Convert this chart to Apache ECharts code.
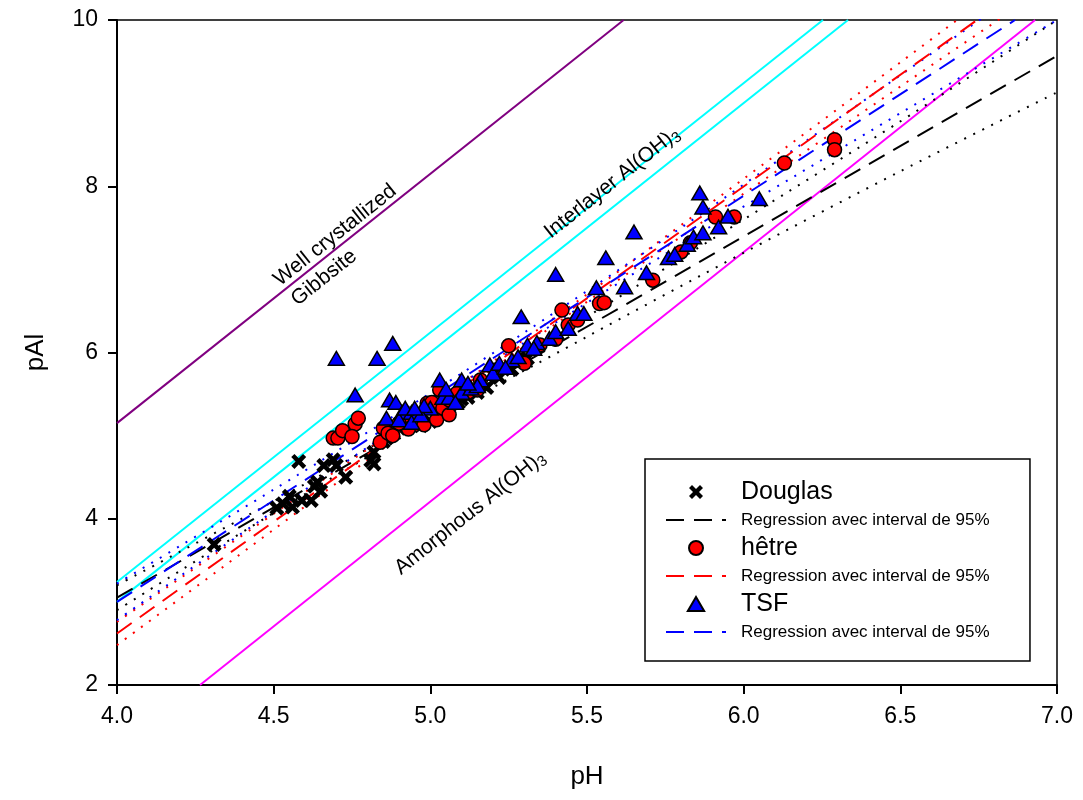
<!DOCTYPE html>
<html><head><meta charset="utf-8">
<script src="https://cdn.jsdelivr.net/npm/echarts@6/dist/echarts.min.js"></script>
<style>html,body{margin:0;padding:0;background:#fff}#c{width:1083px;height:800px}</style>
</head><body><div id="c"></div><script>
// ---- data (pH, pAl) ----
const douglasPts = [[4.31,3.69],[4.51,4.13],[4.53,4.18],[4.55,4.27],[4.56,4.14],[4.59,4.22],[4.62,4.22],[4.63,4.39],[4.64,4.44],[4.65,4.33],[4.58,4.69],[4.66,4.64],[4.69,4.71],[4.70,4.64],[4.73,4.50],[4.81,4.70],[4.82,4.66],[4.82,4.80],[4.85,4.93],[4.88,5.02],[4.90,5.09],[4.93,5.13],[4.97,5.12],[5.00,5.17],[5.03,5.30],[5.06,5.36],[5.09,5.40],[5.12,5.46],[5.15,5.52],[5.18,5.58],[5.22,5.70],[5.26,5.80],[5.31,5.93],[5.05,5.38],[4.95,5.21],[5.10,5.44],[4.86,4.97]];
const hetrePts = [[4.69,4.97],[4.705,4.97],[4.72,5.06],[4.76,5.14],[4.77,5.21],[4.75,4.99],[4.84,4.92],[4.85,5.09],[4.865,5.03],[4.88,5.00],[4.92,5.19],[4.95,5.13],[4.98,5.13],[4.99,5.39],[5.005,5.40],[5.02,5.19],[5.04,5.33],[5.06,5.43],[5.085,5.51],[5.12,5.52],[5.16,5.67],[5.21,5.79],[5.25,6.08],[5.30,5.87],[5.35,6.09],[5.40,6.16],[5.42,6.51],[5.44,6.33],[5.47,6.39],[5.54,6.59],[5.555,6.60],[5.71,6.87],[5.80,7.21],[5.83,7.32],[5.91,7.63],[5.97,7.63],[6.13,8.28],[6.29,8.56],[6.29,8.44],[5.03,5.55],[5.15,5.55],[4.93,5.08],[4.90,5.15],[5.06,5.25]];
const tsfPts = [[4.70,5.93],[4.83,5.93],[4.88,6.11],[4.76,5.49],[4.86,5.21],[4.87,5.43],[4.89,5.40],[4.91,5.28],[4.94,5.28],[4.90,5.19],[4.94,5.16],[5.00,5.33],[5.03,5.67],[5.04,5.46],[5.06,5.46],[5.10,5.52],[5.10,5.67],[5.13,5.57],[5.16,5.67],[5.19,5.85],[5.20,5.75],[5.22,5.87],[5.26,5.91],[5.28,5.95],[5.31,6.09],[5.34,6.12],[5.38,6.17],[5.29,6.43],[5.40,6.25],[5.44,6.29],[5.47,6.47],[5.49,6.47],[5.40,6.94],[5.53,6.78],[5.56,7.14],[5.62,6.79],[5.65,7.45],[5.69,6.96],[5.76,7.14],[5.78,7.18],[5.82,7.30],[5.84,7.39],[5.87,7.44],[5.86,7.92],[5.87,7.75],[5.92,7.51],[5.95,7.64],[6.05,7.85],[5.33,6.05],[4.97,5.25],[5.08,5.40],[5.15,5.60],[5.24,5.82],[4.98,5.36],[4.92,5.33],[5.12,5.63],[5.05,5.56],[4.95,5.33]];

// reference solubility lines
const gibbsiteLine = [[4.0,5.15],[5.617,10]];
const interlayerLine1 = [[4.0,3.24],[6.253,10]];
const interlayerLine2 = [[4.0,3.0],[6.333,10]];
const amorphousLine = [[4.265,2],[6.93,10]];

// regressions
const douglasReg = [[4.0,3.05],[7.0,9.57]];
const hetreReg = [[4.0,2.62],[6.745,10]];
const tsfReg = [[4.0,3.0],[6.866,10]];

// 95% intervals
const douglasUp = [[4.0,3.20],[4.5,4.21],[4.9,5.06],[5.5,6.43],[6.0,7.60],[6.5,8.78],[7.0,10.0]];
const douglasLo = [[4.0,2.90],[4.5,4.07],[4.9,4.96],[5.5,6.19],[6.0,7.20],[6.5,8.18],[7.0,9.13]];
const hetreUp = [[4.0,2.76],[4.5,4.06],[5.0,5.36],[5.5,6.70],[6.0,8.09],[6.5,9.49],[7.0,10.9]];
const hetreLo = [[4.0,2.48],[4.5,3.87],[5.0,5.26],[5.5,6.61],[6.0,7.91],[6.5,9.20],[7.0,10.48]];
const tsfUp = [[4.0,3.22],[4.5,4.35],[5.0,5.51],[5.3,6.24],[5.8,7.50],[6.3,8.81],[7.0,10.65]];
const tsfLo = [[4.0,2.78],[4.5,4.09],[5.0,5.37],[5.3,6.12],[5.8,7.30],[6.3,8.43],[7.0,10.0]];

// annotations
const annotationText = ['Well crystallized','Gibbsite','Interlayer Al(OH)','Amorphous Al(OH)'];
const annotationSub = ['','','3','3'];
const annotationPos = [[4.696,7.41],[4.661,6.90],[5.58,8.04],[5.127,4.07]];

const xTicks = {min:4, max:7, interval:0.5};
const yTicks = {min:2, max:10, interval:2};

const regName = 'Regression avec interval de 95%';
const FONT = "'Liberation Sans', Arial, sans-serif";
const XPATH = 'path://M0,3L3,0L7,4L11,0L14,3L10,7L14,11L11,14L7,10L3,14L0,11L4,7Z';
const TRIPATH = 'path://M7,0L14,12L0,12Z';

const chart = echarts.init(document.getElementById('c'), null, {renderer:'canvas'});

function refLine(data, color) {
  return {type:'line', data, symbol:'none', silent:true, lineStyle:{color, width:2}, z:1};
}
function regLine(name, data, color) {
  return {type:'line', name, data, symbol:'none', silent:true, lineStyle:{color, width:2, type:[18,10]}, itemStyle:{color}, z:2};
}
function ciLine(data, color) {
  return {type:'line', data, symbol:'none', silent:true, smooth:0.3, lineStyle:{color, width:2, type:[2,8]}, z:2};
}

const annData = annotationText.map((t,i)=>({value: annotationPos[i], t, s: annotationSub[i]}));
const bigText = {fontSize:25, lineHeight:28, padding:[0,0,0,10]};
const smallText = {fontSize:17, lineHeight:28, padding:[0,0,0,10]};
const hideSym = {opacity:0};

chart.setOption({
  animation:false,
  textStyle:{fontFamily:FONT},
  grid:{left:117, right:26, top:20, bottom:115, show:true, borderColor:'#000', borderWidth:1.5},
  xAxis:{type:'value', min:xTicks.min, max:xTicks.max, interval:xTicks.interval,
    name:'pH', nameLocation:'middle', nameGap:79, nameTextStyle:{fontSize:26, color:'#000', fontFamily:FONT},
    axisLine:{show:true, onZero:false, lineStyle:{color:'#000', width:2}},
    axisTick:{show:true, length:9, lineStyle:{color:'#000', width:2}},
    axisLabel:{color:'#000', fontSize:23, margin:20, fontFamily:FONT, formatter:v=>v.toFixed(1)},
    splitLine:{show:false}},
  yAxis:{type:'value', min:yTicks.min, max:yTicks.max, interval:yTicks.interval,
    name:'pAl', nameLocation:'middle', nameGap:68, nameRotate:90, nameTextStyle:{fontSize:26, color:'#000', fontFamily:FONT},
    axisLine:{show:true, onZero:false, lineStyle:{color:'#000', width:2}},
    axisTick:{show:true, length:9, lineStyle:{color:'#000', width:2}},
    axisLabel:{color:'#000', fontSize:23, margin:19, fontFamily:FONT},
    splitLine:{show:false}},
  legend:{left:645, top:459, orient:'vertical', itemWidth:60, itemHeight:14, itemGap:0,
    padding:[19,31,15,20], borderColor:'#000', borderWidth:1.5, backgroundColor:'#fff',
    selectedMode:false, textStyle:{color:'#000', fontFamily:FONT},
    data:[
      {name:'Douglas', textStyle:bigText},
      {name:regName, textStyle:smallText, itemStyle:hideSym},
      {name:'hêtre', textStyle:bigText},
      {name:regName+' ', textStyle:smallText, itemStyle:hideSym},
      {name:'TSF', textStyle:bigText},
      {name:regName+'  ', textStyle:smallText, itemStyle:hideSym}
    ]},
  series:[
    refLine(gibbsiteLine,'#800080'),
    refLine(interlayerLine1,'#00ffff'),
    refLine(interlayerLine2,'#00ffff'),
    refLine(amorphousLine,'#ff00ff'),
    ciLine(douglasUp,'#000'), ciLine(douglasLo,'#000'),
    ciLine(hetreUp,'#ff0000'), ciLine(hetreLo,'#ff0000'),
    ciLine(tsfUp,'#0000ff'), ciLine(tsfLo,'#0000ff'),
    regLine(regName, douglasReg, '#000'),
    regLine(regName+' ', hetreReg, '#ff0000'),
    regLine(regName+'  ', tsfReg, '#0000ff'),
    {type:'scatter', name:'Douglas', data:douglasPts, symbol:XPATH, symbolSize:15, symbolKeepAspect:true,
      itemStyle:{color:'#000', opacity:1}, z:3, silent:true},
    {type:'scatter', name:'hêtre', data:hetrePts, symbol:'circle', symbolSize:14,
      itemStyle:{color:'#ff0000', borderColor:'#000', borderWidth:1.5, opacity:1}, z:4, silent:true},
    {type:'scatter', name:'TSF', data:tsfPts, symbol:TRIPATH, symbolSize:16, symbolKeepAspect:true,
      itemStyle:{color:'#0000ff', borderColor:'#000', borderWidth:1.5, opacity:1}, z:5, silent:true},
    {type:'scatter', data:annData, symbolSize:0, silent:true, z:6, itemStyle:{opacity:1},
      label:{show:true, position:'inside', rotate:38.5, color:'#000', opacity:1,
        formatter:p=> p.data.s ? '{t|'+p.data.t+'}{s|'+p.data.s+'}' : '{t|'+p.data.t+'}',
        rich:{t:{fontSize:21, fontFamily:FONT, color:'#000', lineHeight:25},
              s:{fontSize:15, fontFamily:FONT, color:'#000', padding:[10,0,0,0], lineHeight:25}}}}
  ]
});
</script></body></html>
